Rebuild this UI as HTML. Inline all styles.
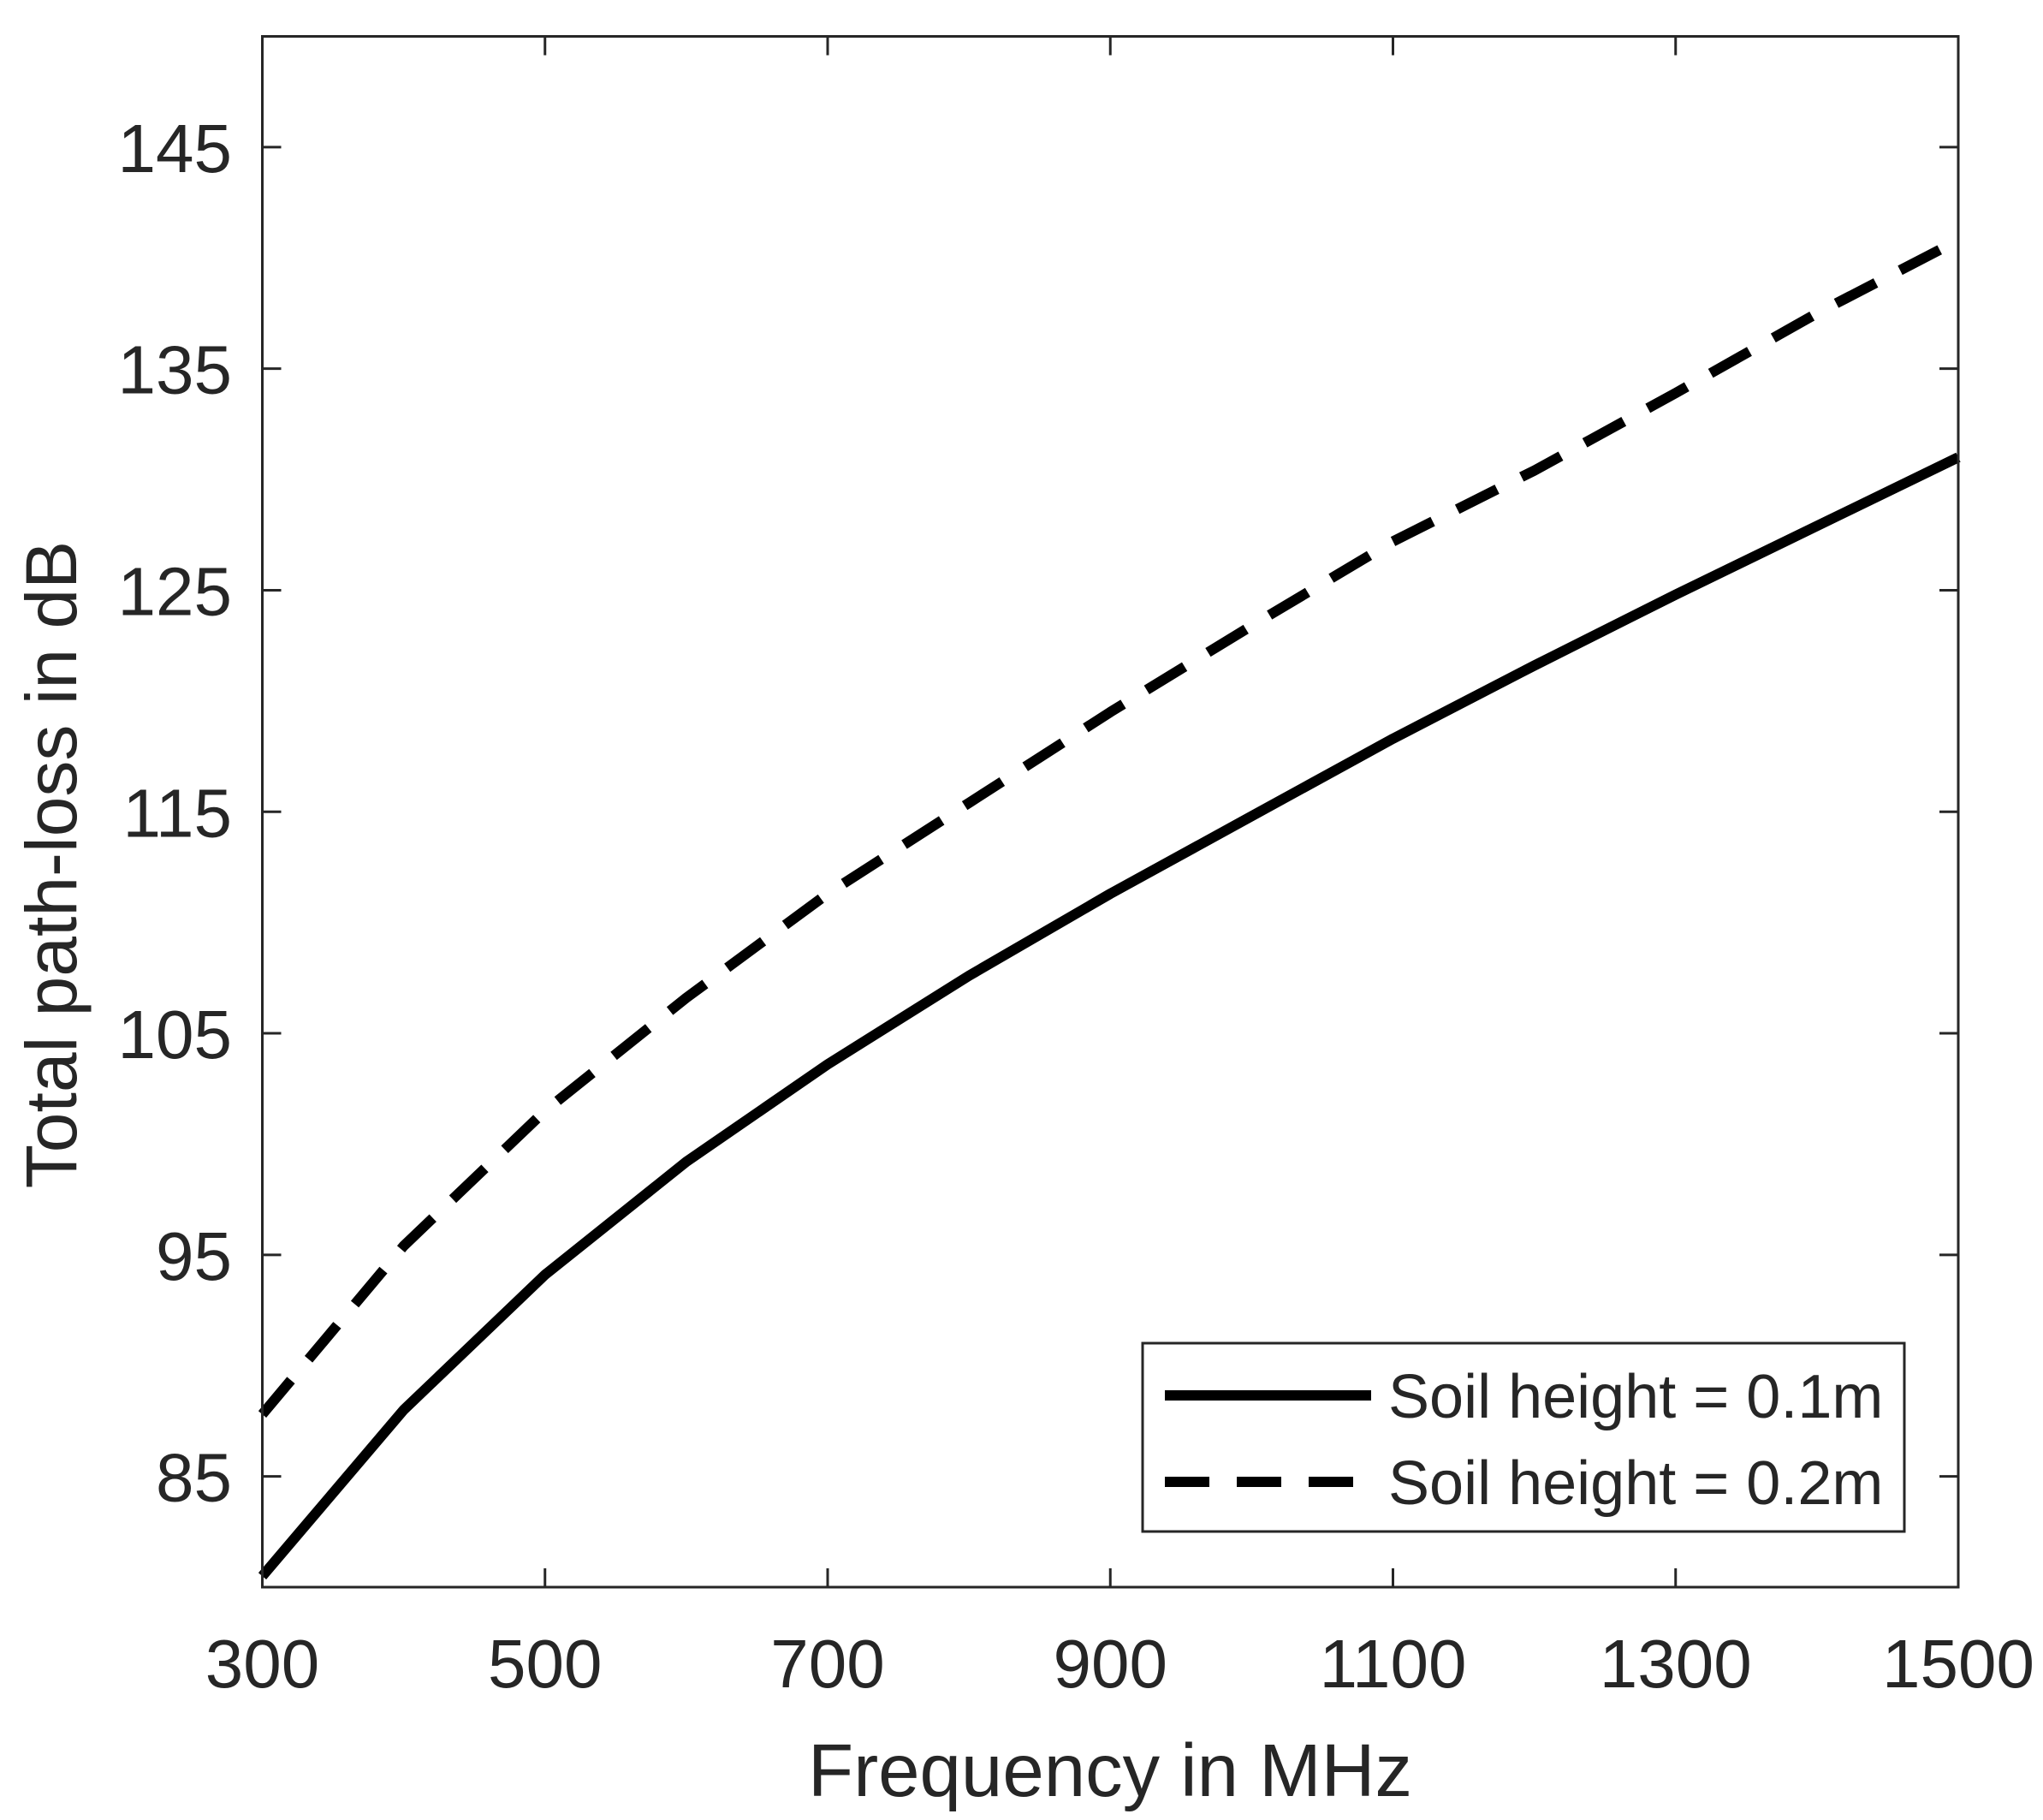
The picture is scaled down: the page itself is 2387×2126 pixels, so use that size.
<!DOCTYPE html>
<html><head><meta charset="utf-8"><style>
html,body{margin:0;padding:0;background:#fff}
svg{display:block}
text{font-family:"Liberation Sans",Arial,sans-serif;fill:#262626}
</style></head><body>
<svg id="chart" width="2387" height="2126" viewBox="0 0 2387 2126" xmlns="http://www.w3.org/2000/svg">
<g id="plot"></g>
</svg>
<script>
const freqs = [300,400,500,600,700,800,900,1000,1100,1200,1300,1400,1500];
const soil01 = [80.5,88.0,94.1,99.2,103.6,107.6,111.3,114.8,118.3,121.6,124.8,127.9,131.0];
const soil02 = [87.8,95.4,101.5,106.6,111.3,115.4,119.5,123.4,127.2,130.4,133.9,137.5,140.8];
const xTicks = [300,500,700,900,1100,1300,1500];
const yTicks = [85,95,105,115,125,135,145];
const legendLabels = ["Soil height = 0.1m","Soil height = 0.2m"];

const L=306.5,R=2288,T=42.5,B=1854;
const xMin=300,xMax=1500,yMin=80,yMax=150;
const sx=v=>L+(v-xMin)/(xMax-xMin)*(R-L);
const sy=v=>B-(v-yMin)/(yMax-yMin)*(B-T);
const NS="http://www.w3.org/2000/svg";
const g=document.getElementById('plot');
function mk(tag,attrs,parent){const e=document.createElementNS(NS,tag);for(const k in attrs)e.setAttribute(k,attrs[k]);(parent||g).appendChild(e);return e;}

function series(vals,name,dash){
  const d=freqs.map((f,i)=>(i?'L':'M')+sx(f).toFixed(1)+' '+sy(vals[i]).toFixed(1)).join(' ');
  const p=mk('path',{d:d,fill:'none',stroke:'#000','stroke-width':12,'stroke-linejoin':'round'});
  if(dash)p.setAttribute('stroke-dasharray','52 32');
  
  
}
series(soil01,'series-soil-0.1m',false);
series(soil02,'series-soil-0.2m',true);

const box=mk('rect',{x:L,y:T,width:R-L,height:B-T,fill:'none',stroke:'#262626','stroke-width':3});



xTicks.forEach(v=>{
  const x=sx(v);
  mk('line',{x1:x,y1:B,x2:x,y2:B-22,stroke:'#262626','stroke-width':3});
  mk('line',{x1:x,y1:T,x2:x,y2:T+22,stroke:'#262626','stroke-width':3});
  const t=mk('text',{x:x,y:1971,'text-anchor':'middle','font-size':80});
  t.textContent=v;
  
  
});
yTicks.forEach(v=>{
  const y=sy(v);
  mk('line',{x1:L,y1:y,x2:L+22,y2:y,stroke:'#262626','stroke-width':3});
  mk('line',{x1:R,y1:y,x2:R-22,y2:y,stroke:'#262626','stroke-width':3});
  const t=mk('text',{x:271,y:y+29,'text-anchor':'end','font-size':80});
  t.textContent=v;
  
  
});

const xt=mk('text',{x:1297,y:2098,'text-anchor':'middle','font-size':87});
xt.textContent='Frequency in MHz';


const yt=mk('text',{x:0,y:0,'text-anchor':'middle','font-size':84,transform:'translate(89,1010) rotate(-90)'});
yt.textContent='Total path-loss in dB';



const lg=mk('g',{});


mk('rect',{x:1335,y:1569,width:890,height:220,fill:'#fff',stroke:'#262626','stroke-width':3},lg);
[1630,1731].forEach((y,i)=>{
  const ln=mk('line',{x1:1361,y1:y,x2:1602,y2:y,stroke:'#000','stroke-width':12},lg);
  if(i===1)ln.setAttribute('stroke-dasharray','52 32');
  
  
  const t=mk('text',{x:1622,y:y+26,'font-size':72},lg);
  t.textContent=legendLabels[i];
  
  
});
</script>
</body></html>
